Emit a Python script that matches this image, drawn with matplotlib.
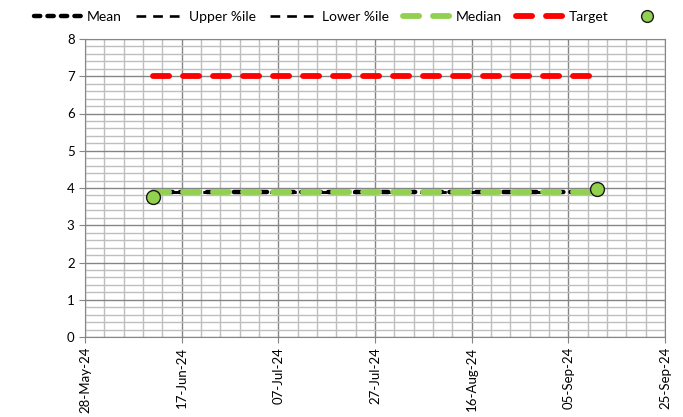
import datetime as dt
import matplotlib
matplotlib.use("Agg")
import matplotlib.pyplot as plt
import matplotlib.dates as mdates
from matplotlib.ticker import MultipleLocator

plt.rcParams['font.family'] = ['Lato', 'DejaVu Sans']
plt.rcParams['lines.scale_dashes'] = False

# weekly points from 11-Jun-24 to 10-Sep-24
dates = [dt.date(2024, 6, 11) + dt.timedelta(days=7 * i) for i in range(14)]
mean = [3.9] * 14
upper = [3.9] * 14
lower = [3.9] * 14
median = [3.9] * 14
target = [7.0] * 14
obs_dates = [dt.date(2024, 6, 11), dt.date(2024, 9, 11)]
obs_vals = [3.76, 3.98]

fig = plt.figure(figsize=(6.83, 4.17), dpi=100)
ax = fig.add_axes([85 / 683, 80 / 417, 580 / 683, 298 / 417])

ax.plot(dates, mean, color='black', lw=3.2, dashes=(4.5, 5.2), dash_capstyle='round', label='Mean')
ax.plot(dates, upper, color='black', lw=1.9, dashes=(7, 5), label='Upper %ile')
ax.plot(dates, lower, color='black', lw=1.9, dashes=(7, 5), label='Lower %ile')
ax.plot(dates, median, color='#92D050', lw=4.2, dashes=(11.6, 10), dash_capstyle='round', label='Median')
ax.plot(dates, target, color='#FF0000', lw=4.2, dashes=(11.6, 10), dash_capstyle='round', label='Target')
ax.plot(obs_dates, obs_vals, ls='none', marker='o', ms=10, mfc='#92D050', mec='#1a1a1a', mew=1.0, label=' ',
        zorder=5)

ax.set_xlim(dt.date(2024, 5, 28), dt.date(2024, 9, 25))
ax.set_ylim(0, 8)
major_dates = [dt.date(2024, 5, 28) + dt.timedelta(days=20 * i) for i in range(7)]
ax.set_xticks(major_dates)
ax.set_xticks([dt.date(2024, 5, 28) + dt.timedelta(days=4 * i) for i in range(31)], minor=True)
ax.xaxis.set_major_formatter(mdates.DateFormatter('%d-%b-%y'))
ax.yaxis.set_major_locator(MultipleLocator(1))
ax.yaxis.set_minor_locator(MultipleLocator(0.2))

for lab in ax.get_xticklabels():
    lab.set_rotation(90)
ax.tick_params(axis='both', which='major', labelsize=9.5, length=4, color='#868686')
ax.tick_params(axis='both', which='minor', length=0)
ax.tick_params(axis='x', pad=3)

ax.grid(True, which='major', color='#858585', lw=1.0)
ax.grid(True, which='minor', color='#BEBEBE', lw=1.0)
ax.set_axisbelow(True)
for s in ax.spines.values():
    s.set_color('#868686')

fig.legend(loc='upper center', bbox_to_anchor=(0.522, 1.003), ncol=6, frameon=False,
           fontsize=10, handlelength=3.6, columnspacing=1.0, handletextpad=0.2,
           markerscale=0.85)

fig.savefig('out.png', dpi=100)
